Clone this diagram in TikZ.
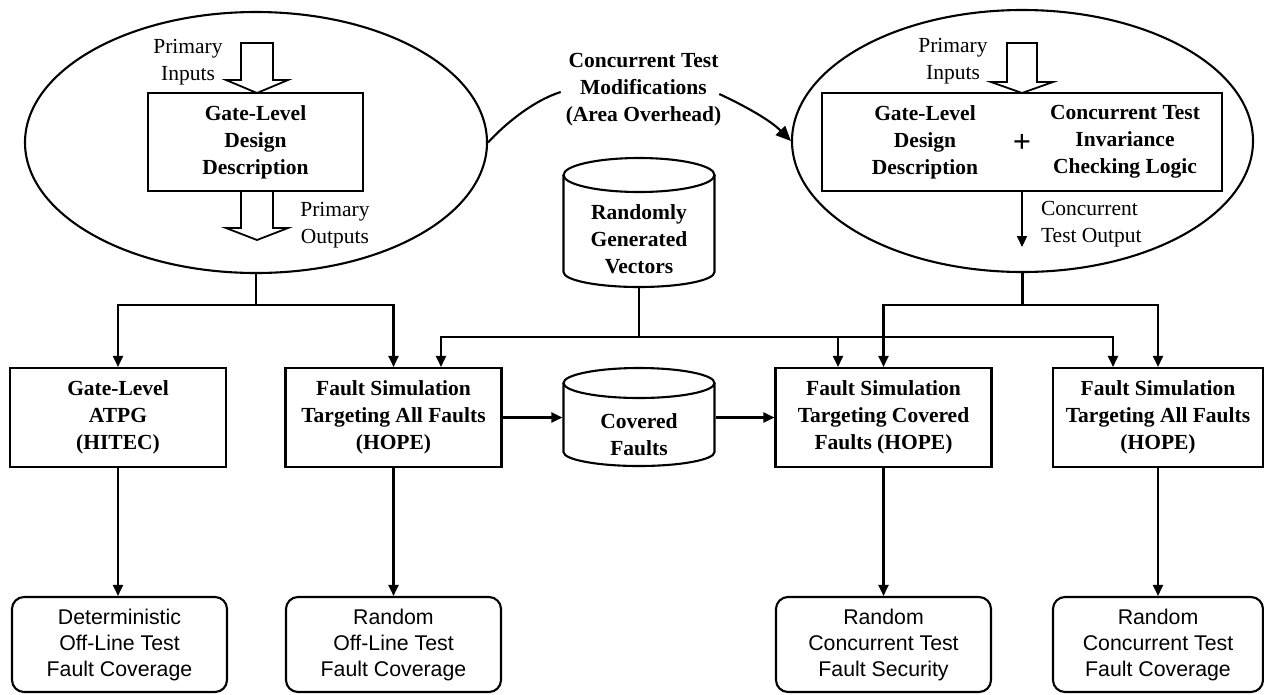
\documentclass[tikz,border=0pt]{standalone}
\usepackage{fontspec}
\setmainfont{Liberation Serif}
\newfontfamily\labelsans{Liberation Sans}
\usetikzlibrary{arrows.meta,shapes.geometric}
\begin{document}
\begin{tikzpicture}[x=1pt,y=-1pt,line width=2.1pt,
  tip/.style={-{Triangle[length=11pt,width=10pt]}},
  bigtip/.style={-{Triangle[length=15pt,width=13pt]}},
  serifbold/.style={font=\fontsize{21.5}{27}\selectfont\bfseries, align=center, inner sep=0pt},
  serifreg/.style={font=\fontsize{21.5}{27}\selectfont, align=center, inner sep=0pt},
  procbox/.style={draw, rectangle, minimum width=216pt, minimum height=99pt, serifbold},
  resultbox/.style={draw, rectangle, rounded corners=12pt, minimum width=215pt, minimum height=95pt,
    align=center, inner sep=0pt, font=\labelsans\fontsize{21.3}{26}\selectfont},
  scopeoval/.style={draw, ellipse, inner sep=0pt},
  hollow/.style={draw, fill=white, line width=1.8pt, line join=miter},
  store/.style={rectangle, inner sep=0pt, minimum width=151pt}
]
\useasboundingbox (0,0) rectangle (1264,694);

% ---- design scopes ----
\node[scopeoval, minimum width=462pt, minimum height=261pt] (lell) at (256,142.5) {};
\node[scopeoval, minimum width=461pt, minimum height=262pt] (rell) at (1022.5,141) {};

\node[procbox, minimum width=215pt, minimum height=98pt] (lbox) at (255.5,142) {Gate-Level\\Design\\Description};
\node[draw, rectangle, minimum width=400pt, minimum height=98pt, inner sep=0pt] (rbox) at (1022,142) {};
\node[serifbold] (rdesign) at (925,142) {Gate-Level\\Design\\Description};
\node[serifbold] (rlogic) at (1125,142) {Concurrent Test\\Invariance\\Checking Logic};
\node[font=\fontsize{32}{32}\selectfont\bfseries, inner sep=0pt] (plus) at (1022,143) {+};

% hollow input / output arrows
\draw[hollow] (241,43) -- (273,43) -- (273,80) -- (288,80) -- (257,93) -- (226,80) -- (241,80) -- cycle;
\draw[hollow] (241,191) -- (273,191) -- (273,228) -- (288,228) -- (257,240) -- (226,228) -- (241,228) -- cycle;
\draw[hollow] (1007,43) -- (1037,43) -- (1037,82) -- (1053,82) -- (1022,93) -- (991,82) -- (1007,82) -- cycle;

\node[serifreg] (pinl) at (188,62.5) {Primary\\Inputs};
\node[serifreg] (poutl) at (335,225) {Primary\\Outputs};
\node[serifreg] (pinr) at (953,61) {Primary\\Inputs};
\node[serifreg, align=left, anchor=west] (ctolabel) at (1040,224) {Concurrent\\Test Output};
\coordinate (ctoend) at (1022,247);
\draw[tip] (rbox.south) -- (ctoend);

% ---- modification label ----
\node[serifbold] (mods) at (643.5,90) {Concurrent Test\\Modifications\\(Area Overhead)};
\draw (lell.east) .. controls (503,126) and (532,101) .. ([shift={(-4,2)}]mods.west);
\draw[bigtip] ([shift={(-3,4)}]mods.east) .. controls (745,106) and (770,120) .. (rell.west);

% ---- vector store ----
\node[store, minimum height=129pt] (rv) at (639,222.5) {};
\draw (639,175) ellipse[x radius=75.5, y radius=17];
\draw (563.5,175) -- (563.5,272) .. controls (563.5,280.3) and (597.3,287) .. (639,287)
      .. controls (680.7,287) and (714.5,280.3) .. (714.5,272) -- (714.5,175);
\node[serifbold] (rvtext) at (639,239) {Randomly\\Generated\\Vectors};

% ---- process boxes ----
\node[procbox] (b1) at (118,417.5) {Gate-Level\\ATPG\\(HITEC)};
\node[procbox] (b2) at (393.5,417.5) {Fault Simulation\\Targeting All Faults\\(HOPE)};
\node[procbox] (b3) at (883.5,417.5) {Fault Simulation\\Targeting Covered\\Faults (HOPE)};
\node[procbox, minimum width=210pt] (b4) at (1158,417.5) {Fault Simulation\\Targeting All Faults\\(HOPE)};

% ---- covered faults store ----
\node[store, minimum height=98pt] (cf) at (639,417.5) {};
\draw (639,383) ellipse[x radius=75.5, y radius=15];
\draw (563.5,383) -- (563.5,452) .. controls (563.5,459.7) and (597.3,466) .. (639,466)
      .. controls (680.7,466) and (714.5,459.7) .. (714.5,452) -- (714.5,383);
\node[serifbold] (cftext) at (639,435) {Covered\\Faults};

% ---- result boxes ----
\node[resultbox] (r1) at (119.5,644.5) {Deterministic\\Off-Line Test\\Fault Coverage};
\node[resultbox] (r2) at (393.5,644.5) {Random\\Off-Line Test\\Fault Coverage};
\node[resultbox] (r3) at (883.5,644.5) {Random\\Concurrent Test\\Fault Security};
\node[resultbox, minimum width=210pt] (r4) at (1158,644.5) {Random\\Concurrent Test\\Fault Coverage};

% ---- connectors ----
\coordinate (lj) at (256,305);
\draw (lell.south) -- (lj);
\draw[tip] (lj) -| (b1.north);
\draw[tip] (lj) -| (b2.north);

\coordinate (rj) at (639,337);
\draw (rv.south) -- (rj);
\draw[tip] (rj) -| ([xshift=47.5pt]b2.north);
\draw[tip] (rj) -| ([xshift=-45.5pt]b3.north);
\draw[tip] (rj) -| ([xshift=-45pt]b4.north);

\coordinate (qj) at (1022.5,305);
\draw (rell.south) -- (qj);
\draw[tip] (qj) -| (b3.north);
\draw[tip] (qj) -| (b4.north);

\draw[tip] (b2.east) -- (cf.west);
\draw[tip] (cf.east) -- (b3.west);

\draw[tip] (b1.south) -- (b1.south |- r1.north);
\draw[tip] (b2.south) -- (r2.north);
\draw[tip] (b3.south) -- (r3.north);
\draw[tip] (b4.south) -- (r4.north);
\end{tikzpicture}
\end{document}
